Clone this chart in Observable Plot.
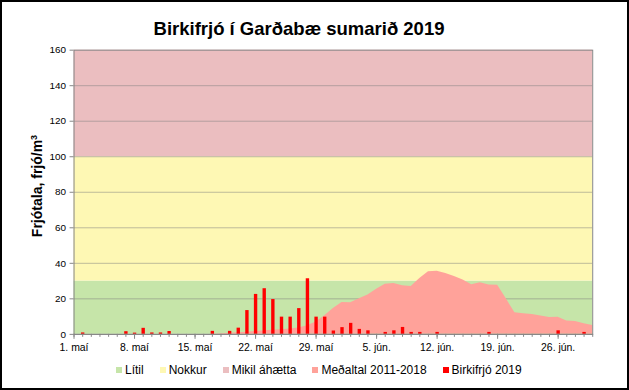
<!DOCTYPE html>
<html>
<head>
<meta charset="utf-8">
<script src="https://cdn.jsdelivr.net/npm/d3@7"></script>
<script src="https://cdn.jsdelivr.net/npm/@observablehq/plot@0.6"></script>
<style>
  html, body { margin: 0; padding: 0; background: #fff; }
  #chart { position: relative; width: 629px; height: 390px; box-sizing: border-box; border: 2px solid #000; overflow: hidden; font-family: "Liberation Sans", Arial, sans-serif; background: #fff; }
  #title { position: absolute; left: 0; width: 594px; top: 16px; text-align: center; font-weight: bold; font-size: 18.5px; color: #000; }
  #plot { position: absolute; left: -2px; top: -2px; }
  #ylabel { position: absolute; left: 35px; top: 184px; transform: translate(-50%, -50%) rotate(-90deg); white-space: nowrap; font-weight: bold; font-size: 14px; color: #000; }
  #legend { position: absolute; left: 114px; top: 361px; display: flex; align-items: center; font-size: 12px; color: #000; white-space: nowrap; }
  #legend .item { display: flex; align-items: center; margin-right: 16px; }
  #legend .sw { width: 6px; height: 6px; margin-right: 3px; }
</style>
</head>
<body>
<div id="chart">
  <div id="title">Birkifrjó í Garðabæ sumarið 2019</div>
  <div id="plot"></div>
  <div id="ylabel">Frjótala, frjó/m<sup style="font-size:9px">3</sup></div>
  <div id="legend"></div>
</div>
<script>
// ---- data ----
// day index: 0 = 1. maí ... 60 = 30. jún.
const majorDays = [0, 7, 14, 21, 28, 35, 42, 49, 56];
const majorLabels = ["1. maí", "8. maí", "15. maí", "22. maí", "29. maí", "5. jún.", "12. jún.", "19. jún.", "26. jún."];
const yTicks = [0, 20, 40, 60, 80, 100, 120, 140, 160];

const bandNames = ["Lítil", "Nokkur", "Mikil áhætta"];
const bandLow = [0, 30, 100];
const bandHigh = [30, 100, 160];
const bandColors = ["#c6e5a9", "#fef8b4", "#ebbec0"];

const avgName = "Meðaltal 2011-2018";
const avgDays = [16,17,18,19,20,21,22,23,24,25,26,27,28,29,30,31,32,33,34,35,36,37,38,39,40,41,42,43,44,45,46,47,48,49,50,51,52,53,54,55,56,57,58,59,60];
const avgValues = [0,0.3,0.6,0.9,1.2,1.6,2.0,2.3,2.6,3.0,3.6,4.8,7,10.5,14.5,18,17.8,20,22.2,25.4,28.2,28.7,27.4,26.9,31.5,35.2,35.6,34.3,32.6,30.6,28,29,27.8,27.7,20,12.1,11.6,11.2,10.3,9.5,9.7,7.5,7.3,6,5];
const avgColor = "#ffa29a";

const barName = "Birkifrjó 2019";
const barDays = [1,6,7,8,9,10,11,16,18,19,20,21,22,23,24,25,26,27,28,29,30,31,32,33,34,36,37,38,39,40,42,48,56,59];
const barValues = [0.8,1.5,0.7,3.4,0.8,0.8,1.6,1.7,1.7,3.5,13.4,22.5,25.7,19.6,9.7,9.7,14.5,31.3,9.7,9.7,1.9,3.8,6.2,2.8,2.0,1.1,2.0,3.9,1.1,1.1,1.1,1.1,2.0,1.1];
const barColor = "#ff0000";

const firstDay = 0, lastDay = 60;

// ---- derived tables ----
const bands = bandNames.map((n, i) => ({name: n, lo: bandLow[i], hi: bandHigh[i], color: bandColors[i]}));
const avg = avgDays.map((d, i) => ({day: d, value: avgValues[i]}));
const bars = barDays.map((d, i) => ({day: d, value: barValues[i]}));
const allDays = d3.range(firstDay, lastDay + 1);
const labelOf = new Map(majorDays.map((d, i) => [d, majorLabels[i]]));
const gridVals = yTicks.filter(v => v > 0 && v < 160);

const plot = Plot.plot({
  width: 631,
  height: 364,
  marginLeft: 74,
  marginRight: 35,
  marginTop: 50,
  marginBottom: 28,
  style: {background: "transparent", fontFamily: "Liberation Sans, Arial, sans-serif", color: "#000"},
  x: {domain: [firstDay, lastDay], axis: null},
  y: {domain: [0, 160], axis: null},
  color: {type: "identity"},
  marks: [
    Plot.rect(bands, {x1: firstDay, x2: lastDay, y1: "lo", y2: "hi", fill: "color"}),
    Plot.ruleY(gridVals, {stroke: "#7f7f7f", strokeOpacity: 0.5}),
    Plot.areaY(avg, {x: "day", y: "value", fill: avgColor}),
    Plot.ruleX(bars, {x: "day", y1: 0, y2: "value", stroke: barColor, strokeWidth: 3.4}),
    Plot.frame({stroke: "#868686"}),
    Plot.ruleY([0], {stroke: "#868686"}),
    Plot.axisY({ticks: yTicks, tickSize: 4, tickPadding: 4, fontSize: 10, label: null, stroke: "#868686", tickFormat: d => String(d)}),
    Plot.axisX({ticks: allDays, tickSize: 3, tickFormat: () => "", label: null, stroke: "#868686"}),
    Plot.axisX({ticks: majorDays, tickSize: 5, tickPadding: 4, fontSize: 10.5, label: null, stroke: "#868686", tickFormat: d => labelOf.get(d)})
  ]
});
document.getElementById("plot").appendChild(plot);

// legend
const legendItems = bands.map(b => ({name: b.name, color: b.color}))
  .concat([{name: avgName, color: avgColor}, {name: barName, color: barColor}]);
const lg = document.getElementById("legend");
legendItems.forEach(it => {
  const el = document.createElement("div");
  el.className = "item";
  const sw = document.createElement("span");
  sw.className = "sw";
  sw.style.background = it.color;
  const tx = document.createElement("span");
  tx.textContent = it.name;
  el.appendChild(sw); el.appendChild(tx);
  lg.appendChild(el);
});
</script>
</body>
</html>
